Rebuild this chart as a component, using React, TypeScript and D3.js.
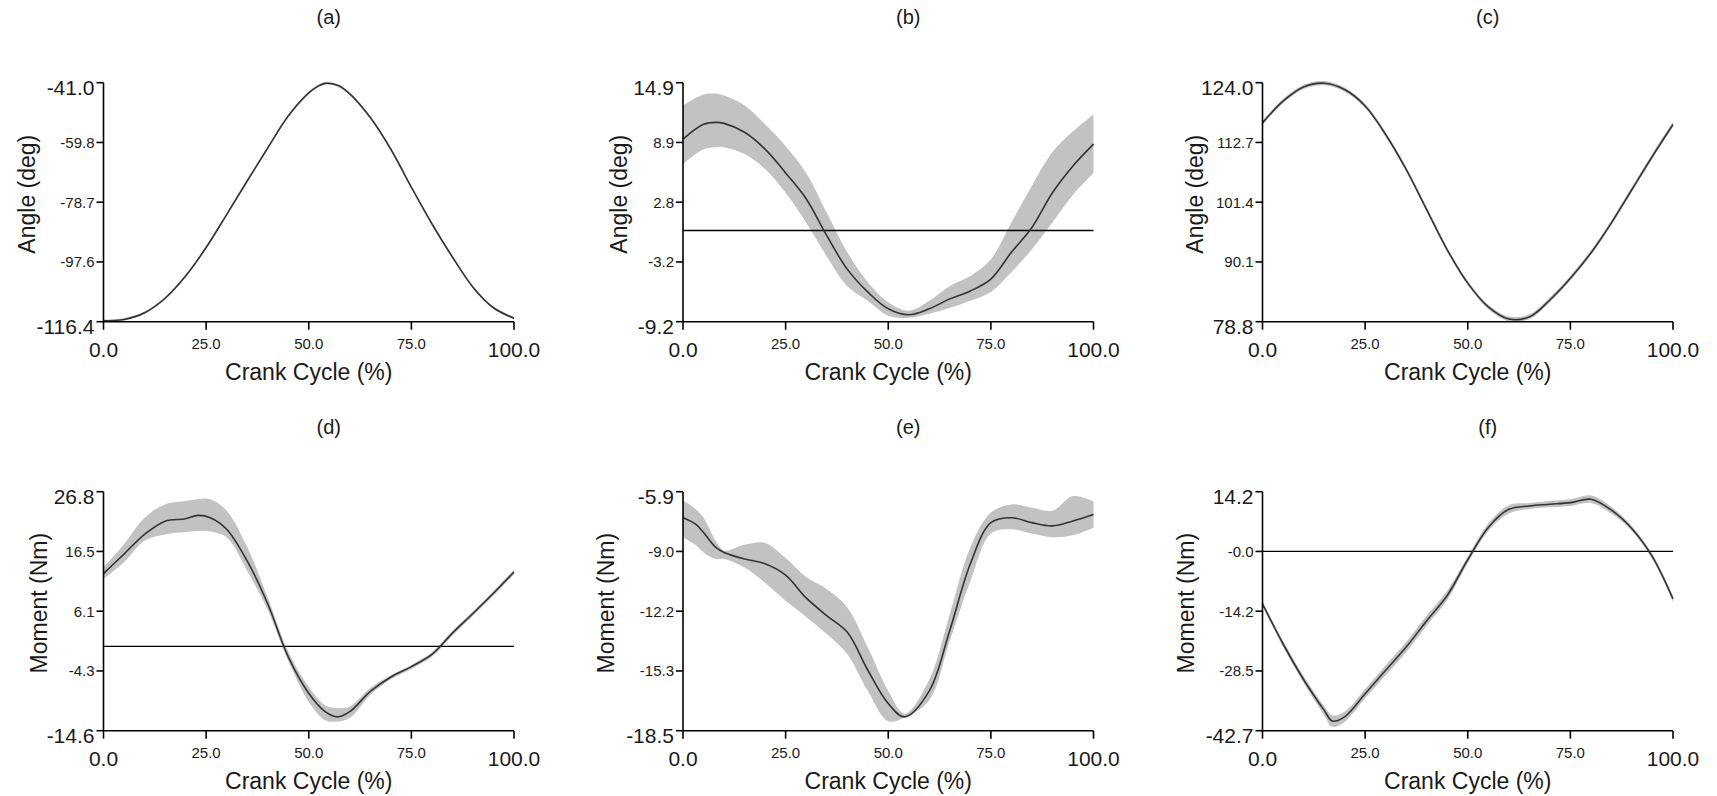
import React from 'react';
import * as d3 from 'd3';

// ---------- shared ----------
const X_TICK_VALUES = [0, 25, 50, 75, 100];
const X_TICK_LABELS = ['0.0', '25.0', '50.0', '75.0', '100.0'];
const X_LABEL = 'Crank Cycle (%)';
const TITLES = ['(a)', '(b)', '(c)', '(d)', '(e)', '(f)'];
const Y_LABELS = ['Angle (deg)', 'Angle (deg)', 'Angle (deg)', 'Moment (Nm)', 'Moment (Nm)', 'Moment (Nm)'];

// ---------- (a) ----------
const A_X = [0, 5, 10, 15, 20, 25, 30, 35, 40, 45, 50, 52, 54, 57, 60, 65, 70, 75, 80, 85, 90, 95, 100];
const A_MEAN = [-116.1, -115.7, -113.6, -109.0, -102.0, -93.0, -82.6, -72.0, -61.6, -51.5, -44.2, -42.3, -41.2, -41.8, -44.5, -52.0, -62.0, -74.0, -85.5, -96.0, -105.5, -112.0, -115.3];
const A_UPPER = [-115.7, -115.3, -113.2, -108.6, -101.6, -92.6, -82.2, -71.6, -61.2, -51.1, -43.8, -41.9, -40.8, -41.4, -44.1, -51.6, -61.6, -73.6, -85.1, -95.6, -105.1, -111.6, -114.9];
const A_LOWER = [-116.4, -116.1, -114.0, -109.4, -102.4, -93.4, -83.0, -72.4, -62.0, -51.9, -44.6, -42.7, -41.6, -42.2, -44.9, -52.4, -62.4, -74.4, -85.9, -96.4, -105.9, -112.4, -115.7];
const A_DOMAIN = [-116.4, -41.0];
const A_TICKS = ['-116.4', '-97.6', '-78.7', '-59.8', '-41.0'];

// ---------- (b) ----------
const B_X = [0, 5, 8, 10, 15, 20, 25, 30, 35, 40, 45, 50, 55, 60, 65, 70, 75, 80, 85, 90, 95, 100];
const B_MEAN = [9.2, 10.7, 10.9, 10.8, 9.9, 8.2, 5.8, 3.2, -0.5, -3.9, -6.2, -7.9, -8.5, -7.9, -6.9, -6.1, -4.9, -2.2, 0.3, 3.8, 6.5, 8.7];
const B_UPPER = [12.6, 13.7, 13.8, 13.6, 12.6, 10.7, 8.5, 5.8, 1.8, -2.2, -5.2, -7.25, -8.1, -7.1, -5.6, -4.6, -2.9, 0.8, 4.5, 7.9, 10.0, 11.7];
const B_LOWER = [6.7, 8.2, 8.4, 8.4, 7.7, 6.2, 3.8, 0.8, -2.6, -5.6, -7.1, -8.6, -8.8, -8.4, -7.8, -7.1, -6.2, -4.2, -1.9, 0.8, 3.6, 5.8];
const B_DOMAIN = [-9.2, 14.9];
const B_TICKS = ['-9.2', '-3.2', '2.8', '8.9', '14.9'];

// ---------- (c) ----------
const C_X = [0, 5, 10, 15, 20, 25, 30, 35, 40, 45, 50, 55, 60, 65, 70, 75, 80, 85, 90, 95, 100];
const C_MEAN = [116.4, 120.5, 123.2, 123.9, 122.7, 119.6, 114.2, 107.6, 100.0, 92.4, 86.1, 81.6, 79.3, 79.7, 82.9, 87.0, 91.8, 97.5, 103.8, 110.1, 116.1];
const C_UPPER = [116.8, 120.9, 123.6, 124.3, 123.1, 120.0, 114.6, 108.0, 100.4, 92.8, 86.5, 82.0, 79.8, 80.2, 83.4, 87.5, 92.3, 98.0, 104.3, 110.6, 116.6];
const C_LOWER = [116.0, 120.1, 122.8, 123.5, 122.3, 119.2, 113.8, 107.2, 99.6, 92.0, 85.7, 81.2, 78.9, 79.3, 82.5, 86.6, 91.4, 97.1, 103.4, 109.7, 115.7];
const C_DOMAIN = [78.8, 124.0];
const C_TICKS = ['78.8', '90.1', '101.4', '112.7', '124.0'];

// ---------- (d) ----------
const D_X = [0, 5, 10, 15, 20, 23, 26, 30, 35, 40, 45, 50, 54, 57, 60, 65, 70, 75, 80, 85, 90, 95, 100];
const D_MEAN = [12.6, 16.0, 19.4, 21.7, 22.1, 22.7, 22.3, 20.3, 14.8, 7.4, -1.8, -8.1, -11.3, -12.2, -11.3, -7.8, -5.3, -3.5, -1.4, 2.3, 5.7, 9.2, 12.9];
const D_UPPER = [13.7, 17.7, 22.3, 24.6, 25.2, 25.5, 25.5, 23.5, 17.2, 8.5, -0.9, -7.0, -10.2, -10.7, -10.4, -7.2, -5.0, -3.2, -1.0, 2.7, 6.1, 9.6, 13.3];
const D_LOWER = [11.7, 14.6, 18.3, 19.4, 19.8, 20.0, 19.9, 18.9, 13.1, 6.3, -2.5, -9.6, -12.8, -13.0, -12.4, -8.4, -5.7, -3.9, -1.8, 1.9, 5.3, 8.8, 12.5];
const D_DOMAIN = [-14.6, 26.8];
const D_TICKS = ['-14.6', '-4.3', '6.1', '16.5', '26.8'];

// ---------- (e) ----------
const E_X = [0, 3, 5, 8, 10, 15, 20, 25, 30, 35, 40, 45, 50, 54, 60, 65, 70, 75, 80, 85, 90, 95, 100];
const E_MEAN = [-7.27, -7.6, -8.05, -8.84, -9.1, -9.45, -9.7, -10.3, -11.5, -12.43, -13.3, -15.3, -17.07, -17.77, -16.4, -13.2, -9.7, -7.53, -7.27, -7.53, -7.7, -7.44, -7.1];
const E_UPPER = [-6.35, -6.8, -7.27, -8.5, -9.0, -8.7, -8.6, -9.4, -10.4, -11.03, -12.0, -14.1, -16.4, -17.6, -15.8, -12.35, -8.84, -7.0, -6.57, -6.74, -6.9, -6.13, -6.4];
const E_LOWER = [-8.3, -8.7, -9.1, -9.45, -9.45, -9.9, -10.7, -11.65, -12.5, -13.4, -14.45, -16.4, -18.0, -17.8, -16.9, -13.75, -10.6, -8.1, -7.88, -8.1, -8.3, -8.2, -7.8];
const E_DOMAIN = [-18.5, -5.9];
const E_TICKS = ['-18.5', '-15.3', '-12.2', '-9.0', '-5.9'];

// ---------- (f) ----------
const F_X = [0, 5, 10, 15, 17, 20, 25, 30, 35, 40, 45, 50, 55, 60, 65, 70, 75, 80, 85, 90, 95, 100];
const F_MEAN = [-12.5, -22.0, -30.5, -37.8, -40.4, -39.4, -33.9, -28.3, -22.8, -16.5, -10.5, -2.0, 5.7, 10.0, 10.8, 11.2, 11.6, 12.4, 9.8, 5.4, -1.3, -11.3];
const F_UPPER = [-12.0, -21.3, -29.7, -36.8, -39.0, -38.2, -32.8, -27.1, -21.6, -15.3, -9.4, -1.2, 6.6, 11.0, 11.5, 12.0, 12.4, 13.3, 10.6, 6.0, -0.7, -10.6];
const F_LOWER = [-13.0, -22.7, -31.3, -39.0, -41.8, -40.6, -35.0, -29.5, -24.0, -17.7, -11.6, -2.8, 4.8, 9.0, 10.1, 10.5, 10.8, 11.5, 9.0, 4.8, -1.9, -12.0];
const F_DOMAIN = [-42.7, 14.2];
const F_TICKS = ['-42.7', '-28.5', '-14.2', '-0.0', '14.2'];

// ---------- layout (styles, not data) ----------
const LEFTS = [103.5, 683, 1262.5];
const TOPS = [82.7, 491.7];
const TITLE_BASELINES = [24, 434];
const W = 410.5;
const H = 239;
const YLABEL_OFFSETS = [77, 64, 68, 65, 77, 77];
const FONT = '"Liberation Sans", Arial, sans-serif';
const TEXT = '#1a1a1a';

const PANELS = [
  { xs: A_X, mean: A_MEAN, upper: A_UPPER, lower: A_LOWER, domain: A_DOMAIN, ticks: A_TICKS, zero: false },
  { xs: B_X, mean: B_MEAN, upper: B_UPPER, lower: B_LOWER, domain: B_DOMAIN, ticks: B_TICKS, zero: true },
  { xs: C_X, mean: C_MEAN, upper: C_UPPER, lower: C_LOWER, domain: C_DOMAIN, ticks: C_TICKS, zero: false },
  { xs: D_X, mean: D_MEAN, upper: D_UPPER, lower: D_LOWER, domain: D_DOMAIN, ticks: D_TICKS, zero: true },
  { xs: E_X, mean: E_MEAN, upper: E_UPPER, lower: E_LOWER, domain: E_DOMAIN, ticks: E_TICKS, zero: false },
  { xs: F_X, mean: F_MEAN, upper: F_UPPER, lower: F_LOWER, domain: F_DOMAIN, ticks: F_TICKS, zero: true },
];

function Panel({ idx }: { idx: number }) {
  const p = PANELS[idx];
  const row = Math.floor(idx / 3);
  const left = LEFTS[idx % 3];
  const top = TOPS[row];
  const x = d3.scaleLinear().domain([0, 100]).range([0, W]);
  const y = d3.scaleLinear().domain(p.domain).range([H, 0]);
  const idxs = p.xs.map((_, i) => i);
  const curve = d3.curveCatmullRom.alpha(0.5);
  const linePath = d3
    .line<number>()
    .x((i) => x(p.xs[i]))
    .y((i) => y(p.mean[i]))
    .curve(curve)(idxs) as string;
  const areaPath = d3
    .area<number>()
    .x((i) => x(p.xs[i]))
    .y0((i) => y(p.lower[i]))
    .y1((i) => y(p.upper[i]))
    .curve(curve)(idxs) as string;
  const tickVals = d3.range(5).map((i) => p.domain[0] + (i * (p.domain[1] - p.domain[0])) / 4);
  const cx = W / 2;
  return (
    <g transform={`translate(${left},${top})`}>
      <text x={cx + 20} y={TITLE_BASELINES[row] - top} textAnchor="middle" fontSize={20} fill={TEXT}>
        {TITLES[idx]}
      </text>
      <path d={areaPath} fill="#c2c2c2" stroke="none" />
      {p.zero && <line x1={0} x2={W} y1={y(0)} y2={y(0)} stroke="#000" strokeWidth={1.4} />}
      <path d={linePath} fill="none" stroke="#333" strokeWidth={1.6} />
      <line x1={0} x2={0} y1={0} y2={H} stroke="#000" strokeWidth={1.6} />
      <line x1={0} x2={W} y1={H} y2={H} stroke="#000" strokeWidth={1.6} />
      {tickVals.map((v, i) => {
        const big = i === 0 || i === 4;
        return (
          <g key={'y' + i}>
            <line x1={-7} x2={0} y1={y(v)} y2={y(v)} stroke="#000" strokeWidth={1.6} />
            <text x={-9} y={y(v) + (big ? 12 : 5.5)} textAnchor="end" fontSize={big ? 21 : 15} fill={TEXT}>
              {p.ticks[i]}
            </text>
          </g>
        );
      })}
      {X_TICK_VALUES.map((v, i) => {
        const big = i === 0 || i === 4;
        return (
          <g key={'x' + i}>
            <line x1={x(v)} x2={x(v)} y1={H} y2={H + 8} stroke="#000" strokeWidth={1.6} />
            <text x={x(v)} y={H + (big ? 35 : 27)} textAnchor="middle" fontSize={big ? 21 : 15} fill={TEXT}>
              {X_TICK_LABELS[i]}
            </text>
          </g>
        );
      })}
      <text x={cx} y={H + 58} textAnchor="middle" fontSize={23} fill={TEXT}>
        {X_LABEL}
      </text>
      <text
        transform={`translate(${-YLABEL_OFFSETS[idx]},${H / 2 - 8}) rotate(-90)`}
        textAnchor="middle"
        dominantBaseline="central"
        fontSize={23}
        fill={TEXT}
      >
        {Y_LABELS[idx]}
      </text>
    </g>
  );
}

export default function App() {
  return (
    <div style={{ position: 'absolute', left: 0, top: 0 }}>
      <svg width={1717} height={796} style={{ display: 'block', background: '#fff', fontFamily: FONT }}>
        <rect width={1717} height={796} fill="#fff" />
        {PANELS.map((_, i) => (
          <Panel key={i} idx={i} />
        ))}
      </svg>
    </div>
  );
}
